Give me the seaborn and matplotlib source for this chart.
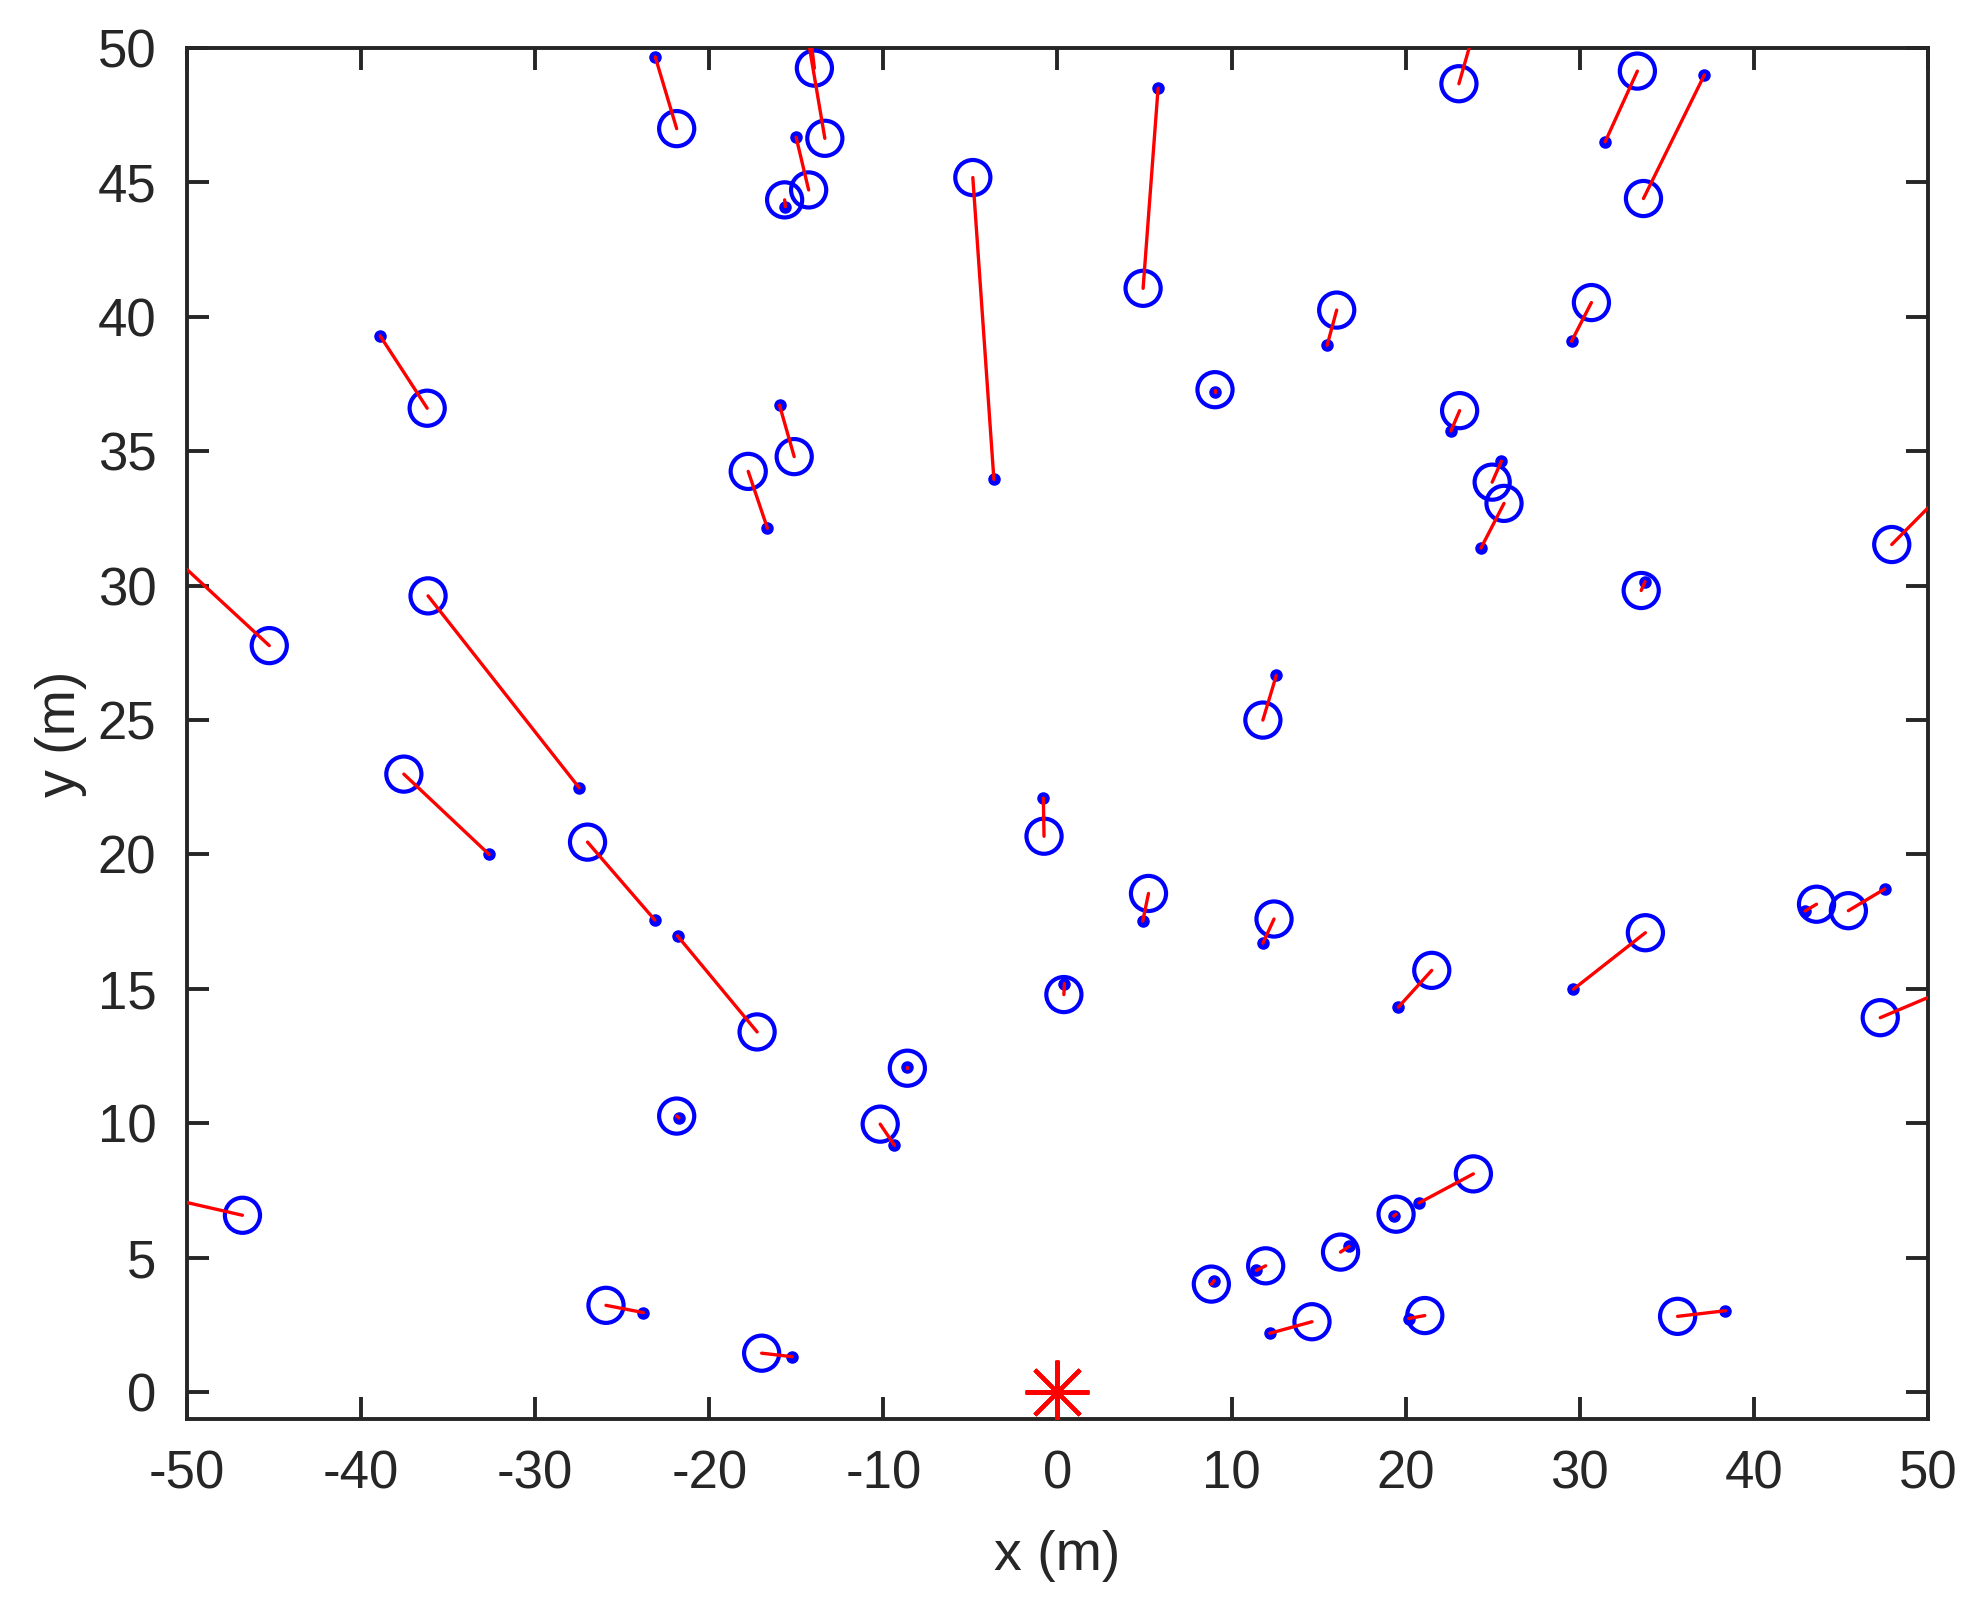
import numpy as np
import pandas as pd
import seaborn as sns
import matplotlib.pyplot as plt

# estimated node positions (circles)
est_x = [-21.87, -13.96, -13.36, -14.29, -15.67, -4.86, 4.92, 23.06, 33.31, 33.66,
         16.04, 30.67, 9.05, 23.1, 24.97, 25.65, 47.92, 33.53, -36.2, -17.76,
         -15.12, -45.27, -36.15, 11.8, -37.54, -26.99, -0.77, 5.23, 12.44, 43.6,
         45.43, 33.77, 21.5, 47.26, 0.37, -17.25, -8.62, -21.87, -10.18, 23.89,
         19.45, -46.81, 16.26, 11.96, 8.84, -25.93, 21.1, 14.62, 35.62, -16.99]
est_y = [47.0, 49.25, 46.64, 44.72, 44.35, 45.18, 41.06, 48.67, 49.14, 44.4,
         40.25, 40.53, 37.29, 36.51, 33.85, 33.06, 31.53, 29.82, 36.6, 34.25,
         34.8, 27.77, 29.62, 25.0, 22.99, 20.46, 20.68, 18.55, 17.6, 18.15,
         17.91, 17.09, 15.69, 13.93, 14.79, 13.4, 12.05, 10.27, 9.97, 8.12,
         6.62, 6.58, 5.21, 4.7, 4.02, 3.23, 2.85, 2.62, 2.82, 1.45]

# true node positions (dots)
true_x = [-23.1, -14.2, -14.5, -15.01, -15.63, -3.65, 5.78, 24.0, 31.46, 37.16,
          15.49, 29.53, 9.05, 22.6, 25.5, 24.33, 52.0, 33.75, -38.9, -16.66,
          -15.96, -53.0, -27.47, 12.57, -32.64, -23.12, -0.81, 4.9, 11.8, 42.95,
          47.52, 29.64, 19.58, 53.0, 0.4, -21.82, -8.62, -21.74, -9.36, 20.77,
          19.32, -53.0, 16.75, 11.43, 9.01, -23.78, 20.18, 12.2, 38.37, -15.23]
true_y = [49.67, 50.5, 51.0, 46.68, 44.1, 33.95, 48.5, 50.8, 46.51, 49.0,
          38.94, 39.09, 37.2, 35.75, 34.63, 31.4, 34.2, 30.15, 39.29, 32.14,
          36.71, 32.4, 22.48, 26.66, 20.0, 17.56, 22.1, 17.52, 16.7, 17.9,
          18.72, 14.99, 14.32, 15.5, 15.2, 16.97, 12.1, 10.2, 9.18, 7.04,
          6.55, 7.5, 5.42, 4.53, 4.15, 2.96, 2.74, 2.19, 3.03, 1.32]

anchor_x = [0]
anchor_y = [0]

x_ticks = list(range(-50, 51, 10))
y_ticks = list(range(0, 51, 5))

sns.set_theme(style="white")
plt.rcParams['font.family'] = ['Liberation Sans', 'DejaVu Sans']
dark = '#262626'

fig = plt.figure(figsize=(9.89, 8.05), dpi=200)
ax = fig.add_axes([0.0945, 0.1186, 0.8802, 0.8516])

est = pd.DataFrame({'x': est_x, 'y': est_y})
true = pd.DataFrame({'x': true_x, 'y': true_y})

sns.scatterplot(data=est, x='x', y='y', ax=ax, marker='o', s=160,
                facecolors='none', edgecolor='#0000ff', linewidth=1.5, zorder=3)
sns.scatterplot(data=true, x='x', y='y', ax=ax, marker='o', s=16,
                color='#0000ff', edgecolor='#0000ff', linewidth=0.5, zorder=4)

# error lines between estimate and truth
for ex, ey, tx, ty in zip(est_x, est_y, true_x, true_y):
    ax.plot([ex, tx], [ey, ty], color='#ff0000', linewidth=1.2, zorder=5)

ax.plot(anchor_x, anchor_y, linestyle='none', marker=(8, 2, 0), markersize=23,
        markeredgewidth=1.5, color='#ff0000', zorder=6)

ax.set_xlim(-50, 50)
ax.set_ylim(-1, 50)
ax.set_xticks(x_ticks)
ax.set_yticks(y_ticks)
ax.set_xticklabels([str(t) for t in x_ticks])
ax.set_yticklabels([str(t) for t in y_ticks])
ax.set_xlabel('x (m)', fontsize=20, color=dark, labelpad=11)
ax.set_ylabel('y (m)', fontsize=20, color=dark, labelpad=4)

ax.tick_params(direction='in', length=8, width=1.4, colors=dark, labelsize=19,
               top=True, right=True, bottom=True, left=True, pad=11)
for sp in ax.spines.values():
    sp.set_visible(True)
    sp.set_color(dark)
    sp.set_linewidth(1.4)

fig.savefig('out.png', dpi=200, facecolor='white')
